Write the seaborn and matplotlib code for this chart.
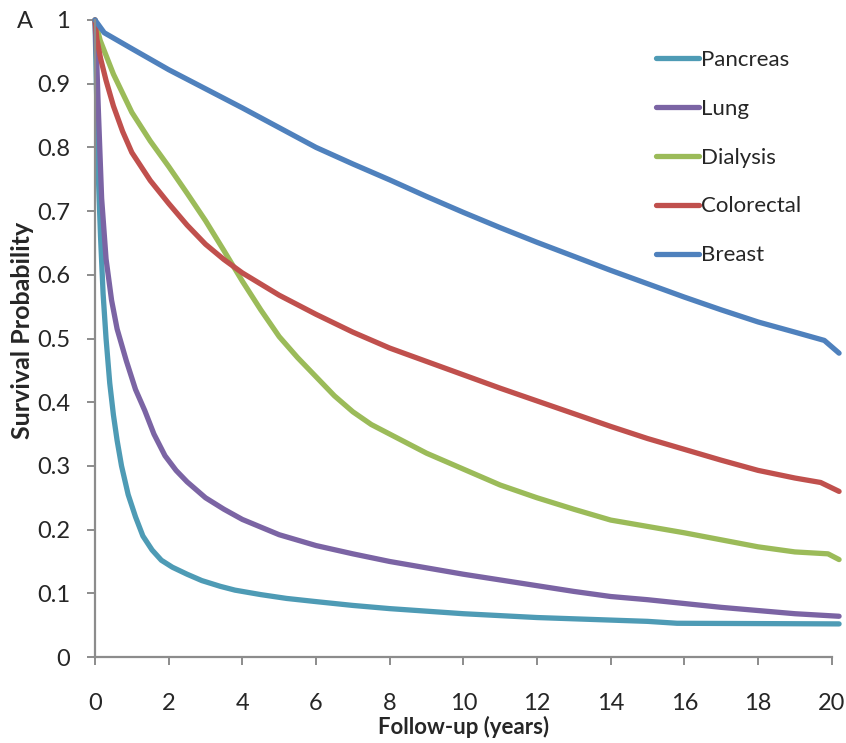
import pandas as pd
import matplotlib.pyplot as plt
import seaborn as sns
from matplotlib.lines import Line2D

# Survival curves (years, probability)
pancreas_x = [0, 0.03, 0.06, 0.1, 0.15, 0.22, 0.3, 0.4, 0.5, 0.6, 0.72, 0.9, 1.1, 1.3, 1.55, 1.8, 2.1, 2.5,
              2.9, 3.4, 3.8, 4.5, 5.2, 6, 7, 8, 9, 10, 11, 12, 13, 14, 15, 15.8, 20.2]
pancreas_y = [1.0, 0.92, 0.84, 0.74, 0.66, 0.57, 0.50, 0.43, 0.38, 0.34, 0.30, 0.255, 0.22, 0.19, 0.168, 0.152,
              0.141, 0.13, 0.12, 0.111, 0.105, 0.098, 0.092, 0.087, 0.081, 0.076, 0.072, 0.068, 0.065, 0.062,
              0.06, 0.058, 0.056, 0.053, 0.052]

lung_x = [0, 0.05, 0.09, 0.18, 0.3, 0.45, 0.6, 0.85, 1.1, 1.35, 1.6, 1.9, 2.2, 2.5, 3, 3.5, 4, 4.5, 5, 6, 7, 8,
          9, 10, 11, 12, 13, 14, 15, 16, 17, 18, 19, 20.2]
lung_y = [1.0, 0.93, 0.86, 0.72, 0.625, 0.56, 0.515, 0.465, 0.42, 0.387, 0.35, 0.316, 0.293, 0.275, 0.25, 0.232,
          0.216, 0.204, 0.192, 0.175, 0.162, 0.15, 0.14, 0.13, 0.121, 0.112, 0.103, 0.095, 0.09, 0.084, 0.078,
          0.073, 0.068, 0.064]

dialysis_x = [0, 0.14, 0.5, 1, 1.5, 2, 2.5, 3, 3.5, 4, 4.5, 5, 5.5, 6, 6.5, 7, 7.5, 8, 9, 10, 11, 12, 13, 14,
              15, 16, 17, 18, 19, 19.9, 20.2]
dialysis_y = [1.0, 0.968, 0.915, 0.855, 0.81, 0.77, 0.728, 0.685, 0.638, 0.59, 0.545, 0.503, 0.47, 0.44, 0.41,
              0.385, 0.365, 0.35, 0.32, 0.295, 0.27, 0.25, 0.232, 0.215, 0.205, 0.195, 0.184, 0.173, 0.165,
              0.162, 0.153]

colorectal_x = [0, 0.05, 0.15, 0.3, 0.5, 0.75, 1, 1.5, 2, 2.5, 3, 3.5, 4, 5, 6, 7, 8, 9, 10, 11, 12, 13, 14,
                15, 16, 17, 18, 19, 19.7, 20.2]
colorectal_y = [1.0, 0.97, 0.94, 0.905, 0.865, 0.825, 0.792, 0.748, 0.712, 0.678, 0.648, 0.624, 0.603, 0.568,
                0.538, 0.51, 0.485, 0.464, 0.443, 0.422, 0.402, 0.382, 0.362, 0.343, 0.326, 0.309, 0.293,
                0.281, 0.274, 0.26]

breast_x = [0, 0.25, 1, 2, 3, 4, 5, 6, 7, 8, 9, 10, 11, 12, 13, 14, 15, 16, 17, 18, 19, 19.8, 20.2]
breast_y = [1.0, 0.98, 0.955, 0.922, 0.892, 0.862, 0.831, 0.80, 0.774, 0.749, 0.723, 0.698, 0.674, 0.651, 0.629,
            0.607, 0.586, 0.565, 0.545, 0.526, 0.51, 0.497, 0.477]

groups = ["Pancreas", "Lung", "Dialysis", "Colorectal", "Breast"]
colors = ["#4E9BB5", "#7B64A4", "#9BBB59", "#C0504D", "#4F81BD"]
series = {
    "Pancreas": (pancreas_x, pancreas_y),
    "Lung": (lung_x, lung_y),
    "Dialysis": (dialysis_x, dialysis_y),
    "Colorectal": (colorectal_x, colorectal_y),
    "Breast": (breast_x, breast_y),
}

df = pd.concat(
    [pd.DataFrame({"years": xs, "surv": ys, "group": g}) for g, (xs, ys) in series.items()],
    ignore_index=True,
)

sns.set_theme(style="white")
plt.rcParams["font.family"] = ["Lato", "DejaVu Sans"]

fig = plt.figure(figsize=(8.46, 7.43), dpi=100)
ax = fig.add_axes([0.1123, 0.1157, 0.8708, 0.8574])

sns.lineplot(data=df, x="years", y="surv", hue="group", hue_order=groups,
             palette=colors, linewidth=3.8, legend=False, sort=False,
             estimator=None, ax=ax, clip_on=False)

ax.set_xlim(0, 20)
ax.set_ylim(0, 1)
ax.set_xticks(range(0, 21, 2))
ax.set_yticks([i / 10 for i in range(11)])
ax.set_yticklabels([f"{i / 10:g}" for i in range(11)])

for s in ["top", "right"]:
    ax.spines[s].set_visible(False)
for s in ["left", "bottom"]:
    ax.spines[s].set_color("#8C8C8C")
    ax.spines[s].set_linewidth(1.6)

ax.tick_params(axis="y", direction="out", length=6, width=1.4, color="#8C8C8C",
               pad=12, labelsize=17, left=True)
ax.tick_params(axis="x", direction="out", length=6, width=1.4, color="#8C8C8C",
               pad=20, labelsize=17, bottom=True)

ax.set_xlabel("Follow-up (years)", fontsize=16, fontweight="bold")
ax.set_ylabel("Survival Probability", fontsize=18, fontweight="bold")
ax.xaxis.set_label_coords(0.5, -0.093)
ax.yaxis.set_label_coords(-0.083, 0.513)

fig.text(25 / 846, 1 - 22 / 743, "A", fontsize=17, va="center", ha="center")

handles = [Line2D([0], [0], color=c, lw=3.8) for c in colors]
fig.legend(handles, groups, loc="upper left", bbox_to_anchor=(0.776, 0.933),
           frameon=False, fontsize=16, handlelength=1.9, handletextpad=0.1,
           labelspacing=1.3, borderpad=0, borderaxespad=0)

plt.savefig("out.png", dpi=100)
